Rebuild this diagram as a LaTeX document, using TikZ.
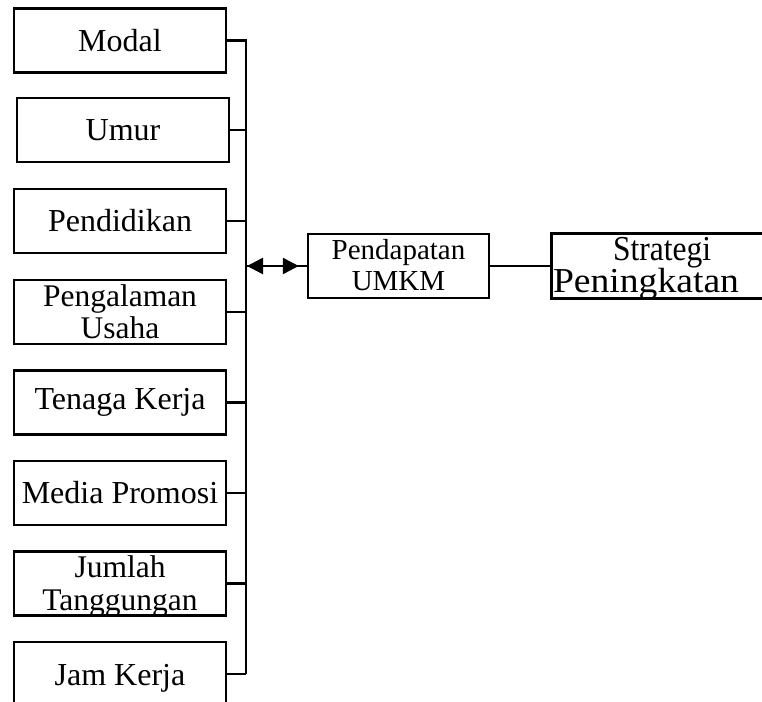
\documentclass[tikz,border=0pt]{standalone}
\usepackage{fontspec}
\usepackage{graphicx}
\setmainfont{Liberation Serif}
\usetikzlibrary{arrows.meta}
\begin{document}
\begin{tikzpicture}[x=1pt,y=-1pt,
  box/.style={draw, line width=2.5pt, minimum width=212pt, minimum height=64pt, inner sep=0pt, align=center, font=\fontsize{32}{33}\selectfont},
  lbl/.style={inner sep=0pt, anchor=base, font=\fontsize{31.5}{33}\selectfont},
  conn/.style={line width=2.5pt},
  dualtip/.style={line width=2.5pt, {Triangle[length=16pt,width=16pt]}-{Triangle[length=16pt,width=16pt]}}]
\useasboundingbox (0,0) rectangle (762,701);
\node[box] (modal) at (120,40.5) {Modal};
\node[box] (umur) at (123,130) {Umur};
\node[box] (pend) at (120,221) {Pendidikan};
\node[box] (peng) at (120,312) {};
\node[lbl] (peng1) at (120,306) {Pengalaman};
\node[lbl] (peng2) at (120,338.5) {Usaha};
\node[box] (tenaga) at (120,402.5) {Tenaga Kerja};
\node[box] (media) at (120,493) {Media Promosi};
\node[box] (jumlah) at (120,583.5) {};
\node[lbl] (jumlah1) at (120,577) {Jumlah};
\node[lbl] (jumlah2) at (120,610) {Tanggungan};
\node[box] (jam) at (120,674) {};
\node[lbl, font=\fontsize{32}{33}\selectfont] (jam1) at (120,685.5) {Jam Kerja};
\node[box, minimum width=181pt] (pdp) at (398.5,266) {};
\node[lbl, font=\fontsize{29}{32}\selectfont] (pdp1) at (398.5,259.3) {Pendapatan};
\node[lbl, font=\fontsize{29}{32}\selectfont] (pdp2) at (398.5,290.7) {UMKM};
\node[box, minimum width=240pt, minimum height=65pt, anchor=west] (strat) at (550,266) {};
\node[lbl, font=\fontsize{35}{32}\selectfont] (strat1) at (662,260) {\scalebox{0.9}[1]{Strategi}};
\node[lbl, font=\fontsize{35}{32}\selectfont] (strat2) at (646,292) {\scalebox{1.075}[1]{Peningkatan}};
\coordinate (vbot) at (246,674);
\coordinate (junc) at (246,266);
\draw[conn] (modal.east) -| (vbot);
\foreach \n in {umur,pend,peng,tenaga,media,jumlah,jam}
  \draw[conn] (\n.east) -- (\n.east -| vbot);
\draw[conn] (junc) -- (pdp.west);
\draw[dualtip, shorten >=8pt, shorten <=1pt] (junc) -- (pdp.west);
\draw[conn] (pdp.east) -- (strat.west);
\end{tikzpicture}
\end{document}
